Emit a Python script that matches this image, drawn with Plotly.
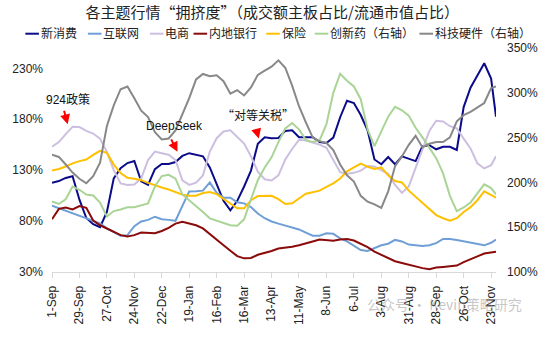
import pandas as pd
import plotly.graph_objects as go

# ---------------- data ----------------
dates = list(pd.date_range("2024-09-01", periods=65, freq="7D")) + [pd.Timestamp("2025-11-28")]

xin_xiaofei = [117.7, 119.3, 122.4, 124, 101, 83, 77, 74, 89, 122,
               132, 137, 139, 119, 115.5, 131, 136, 136, 138, 144,
               146.7, 145, 143.6, 132.7, 115.5, 99.9, 90.6, 99.9, 114, 129.6,
               156, 162.3, 161.4, 161.7, 168.6, 169.2, 162.3, 162.3, 162.3, 157.6,
               156.7, 162, 182, 198.2, 196, 184.2, 169.2, 140.5, 135.8, 143,
               135.8, 143.6, 141.1, 138.9, 153.6, 154.5, 150.5, 153, 153, 149.8,
               192, 211, 223, 235, 220, 182.6]

hu_lian_wang = [95.2, 92.7, 90.2, 88, 85.2, 82.6, 80.3, 77.8, 72.8, 69.6,
                65.6, 66.2, 75, 79.6, 81.2, 84.3, 81.8, 81.2, 80.3, 95,
                109, 109.3, 109.9, 118, 107.7, 103, 103, 98.4, 97.4, 93.7,
                87.4, 82.8, 79.6, 77.5, 75.6, 74, 71.8, 68.7, 65.6, 65.6,
                68.1, 67.5, 63.1, 60, 56.2, 51.6, 50.6, 53.1, 56.2, 57.8,
                61.5, 60, 56.9, 56.2, 55.6, 56.2, 58.4, 62.5, 62.5, 61.5,
                60, 59, 57.2, 56.2, 58.7, 61.9]

dian_shang = [153, 157.6, 165.4, 172.6, 172.3, 168.6, 166, 161, 148, 130,
              117, 115.5, 116, 122, 140, 148.3, 146.7, 145.2, 140, 120,
              115.5, 117.7, 124.9, 148.3, 161.4, 168, 169.2, 162.9, 156.1, 143.6,
              128.6, 121.1, 119.9, 124.9, 140.5, 150.8, 159.8, 159.2, 157.3, 155.1,
              152, 140, 128, 126.4, 127.4, 129.6, 134.2, 133.6, 129.6, 126.4,
              115.5, 107.7, 114, 132.7, 149.8, 168.6, 178.5, 177.9, 173.2, 171.1,
              161, 151.4, 136.7, 131.7, 134.9, 143.6]

nei_di_yin_hang = [81.8, 92, 93.4, 91.5, 94.7, 93.1, 80.5, 75.9, 72.7, 69.3,
                   66.2, 65, 66.2, 68.7, 68.1, 68.1, 70.3, 73.4, 77.5, 79.3,
                   77.6, 75.9, 72.8, 67.2, 60.9, 56.2, 50.9, 45.6, 43.4, 43.8,
                   46.9, 48.4, 50.6, 53.1, 53.7, 54.7, 56.2, 57.8, 60, 61.9,
                   61.5, 60.8, 61.9, 62.5, 60.9, 57.8, 54.4, 50, 46.9, 43.8,
                   40.6, 38.8, 36.9, 35.3, 33.8, 32.8, 34.4, 35, 35.6, 36.3,
                   39.7, 42.2, 45.3, 48.1, 49.4, 50]

bao_xian = [129.6, 131.1, 133.6, 136.7, 138.9, 140.5, 145, 149, 147, 135.5,
            127.2, 122.5, 121.5, 120.2, 117.5, 115, 113, 111, 108.5, 106,
            105, 105, 107.5, 108.5, 106.5, 102, 97.5, 92.5, 92.5, 100.5,
            104.6, 104.9, 104.9, 101.5, 96.8, 97.4, 102.1, 106.8, 108.3, 109.9,
            113.6, 117.1, 121.8, 128.9, 132.7, 136.4, 133.3, 131.1, 132.7, 124.9,
            119.3, 118, 109.9, 103.7, 97.7, 92.1, 85.9, 82.8, 80.3, 82.8,
            89, 93.7, 100.5, 109.3, 105.5, 103]

chuang_xin_yao = [178.7, 175.9, 181.2, 195.4, 191.8, 186.5, 185.4, 177.6, 162, 168,
                  169.8, 172.3, 172.3, 174.1, 176.6, 195.4, 207.1, 208.5, 204.2, 186.5,
                  180.1, 174.1, 167, 159.9, 157.4, 155.3, 152.1, 151.7, 158.8, 181.2,
                  202.5, 216.6, 228, 245, 260.3, 266.3, 259.2, 247.5, 245, 246.8,
                  265, 300, 321.3, 313.5, 307.1, 292.9, 259.2, 240.4, 256.7, 273.4,
                  284.4, 280.5, 274.5, 261, 250.3, 237.9, 227, 210, 185, 168,
                  172, 177.6, 188.3, 197.9, 193.6, 186.5]

ke_ji_ying_jian = [230.8, 228.4, 220, 211, 204, 199, 207, 222, 263, 286,
                   304, 307, 294, 280, 273, 256, 248, 249, 258, 276,
                   294, 315, 321, 318.4, 319.5, 313, 299, 303, 297, 306,
                   320, 324.8, 329.1, 336.2, 328, 308, 285, 267, 250, 246,
                   244, 236, 220, 208, 201, 185, 178.5, 175.5, 171.6, 190,
                   218, 229, 242, 252, 239, 243.2, 245, 245, 250.3, 268.1,
                   275, 278.7, 284, 288.6, 305.3, 307]

names = ["新消费", "互联网", "电商", "内地银行", "保险", "创新药（右轴）", "科技硬件（右轴）"]
colors = ["#0B0B8A", "#6F9FD6", "#CCBFE0", "#8B0A0A", "#FFC000", "#A9D496", "#888888"]
series = [xin_xiaofei, hu_lian_wang, dian_shang, nei_di_yin_hang, bao_xian, chuang_xin_yao, ke_ji_ying_jian]
axes = ["y", "y", "y", "y", "y", "y2", "y2"]

left_ticks = [30, 80, 130, 180, 230]
right_ticks = [100, 150, 200, 250, 300, 350]
x_ticks = list(pd.date_range("2024-09-01", "2025-11-23", freq="28D"))

FONT = "Liberation Sans, Arial, Noto Sans CJK SC, sans-serif"
CJK = "Noto Sans CJK SC, Liberation Sans, sans-serif"

fig = go.Figure()
for name, col, vals, ax in zip(names, colors, series, axes):
    fig.add_trace(go.Scatter(x=dates, y=vals, name=name, mode="lines",
                             line=dict(color=col, width=2), yaxis=ax,
                             showlegend=False))

# ---------------- custom legend (Excel-like short lines) ----------------
L, R, T, B = 45, 47, 48, 54
W, H = 550, 337
pw, ph = W - L - R, H - T - B
def px(xp):
    return (xp - L) / pw
def py(yp):
    return (H - B - yp) / ph

LEG_Y = 32
legend_x = [17.5, 82, 146, 191, 266, 316, 424]
shapes = []
annotations = []
for lx, name, col in zip(legend_x, names, colors):
    shapes.append(dict(type="line", xref="paper", yref="paper",
                       x0=px(lx), x1=px(lx + 14), y0=py(LEG_Y + 1), y1=py(LEG_Y + 1),
                       line=dict(color=col, width=2)))
    annotations.append(dict(xref="paper", yref="paper", x=px(lx + 15), y=py(LEG_Y),
                            text=name, showarrow=False, xanchor="left", yanchor="middle",
                            borderpad=0,
                            font=dict(size=12, color="#222", family=CJK)))

# ---------------- event annotations ----------------
annotations += [
    dict(xref="paper", yref="paper", x=px(62), y=py(103), text="924政策", showarrow=False,
         xanchor="center", yanchor="middle",
         font=dict(size=12, color="#111", family=FONT)),
    dict(xref="paper", yref="paper", x=px(171), y=py(130), text="DeepSeek", showarrow=False,
         xanchor="center", yanchor="middle",
         font=dict(size=12, color="#111", family=FONT)),
    dict(xref="paper", yref="paper", x=px(258), y=py(118), text="“对等关税”", showarrow=False,
         xanchor="center", yanchor="middle",
         font=dict(size=12, color="#111", family=CJK)),
    dict(x=pd.Timestamp("2024-09-17"), y=175, xref="x", yref="y", text="", showarrow=True,
         ax=-4, ay=-15, arrowhead=2, arrowsize=1, arrowwidth=2, arrowcolor="#FF0000"),
    dict(x=pd.Timestamp("2025-01-07"), y=148, xref="x", yref="y", text="", showarrow=True,
         ax=-7, ay=-14, arrowhead=2, arrowsize=1, arrowwidth=2, arrowcolor="#FF0000"),
    dict(x=pd.Timestamp("2025-03-31"), y=161, xref="x", yref="y", text="", showarrow=True,
         ax=-3, ay=-11, arrowhead=2, arrowsize=1, arrowwidth=2, arrowcolor="#FF0000"),
    dict(xref="paper", yref="paper", x=px(450), y=py(317), text="公众号 · Kevin策略研究",
         showarrow=False, xanchor="center", yanchor="middle",
         font=dict(size=14, color="rgba(150,150,150,0.55)", family=CJK)),
]

fig.update_layout(
    width=W, height=H,
    margin=dict(l=L, r=R, t=T, b=B, pad=0),
    paper_bgcolor="white", plot_bgcolor="white",
    title=dict(text="各主题行情“拥挤度”（成交额主板占比/流通市值占比）",
               x=0.495, xanchor="center", y=1 - 13 / H, yanchor="middle",
               font=dict(size=15, color="#222", family=CJK)),
    showlegend=False,
    font=dict(family=FONT, size=12, color="#222"),
    xaxis=dict(type="date", range=[pd.Timestamp("2024-09-01"), pd.Timestamp("2025-11-28")],
               tickvals=x_ticks, tickformat="%-d-%b", tickangle=-90,
               ticks="outside", ticklen=5, tickcolor="#D9D9D9",
               showline=True, linecolor="#D9D9D9", linewidth=1,
               showgrid=False, zeroline=False, ticklabelstandoff=3,
               tickfont=dict(size=12, color="#222", family=FONT)),
    yaxis=dict(range=[30, 250], tickvals=left_ticks,
               ticktext=[f"{v}%" for v in left_ticks],
               showgrid=False, zeroline=False, showline=False,
               ticklabelstandoff=8,
               tickfont=dict(size=12, color="#222", family=FONT)),
    yaxis2=dict(range=[100, 350], tickvals=right_ticks,
                ticktext=[f"{v}%" for v in right_ticks],
                overlaying="y", side="right",
                showgrid=False, zeroline=False, showline=False,
                ticklabelstandoff=10,
                tickfont=dict(size=12, color="#222", family=FONT)),
    shapes=shapes,
    annotations=annotations,
)

fig.write_html("out.html")
